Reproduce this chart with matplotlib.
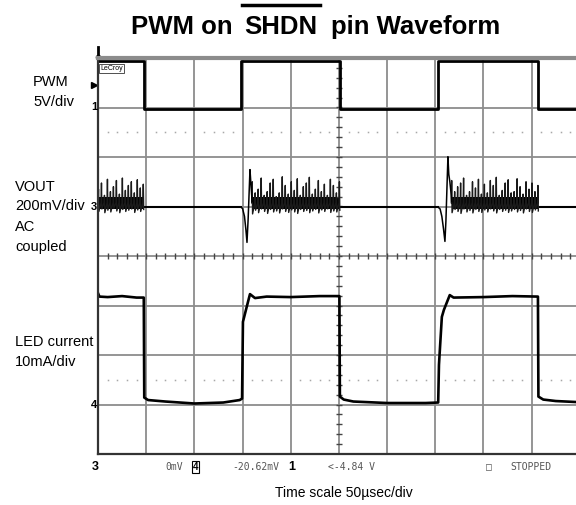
import matplotlib
matplotlib.use("Agg")
import matplotlib.pyplot as plt
from matplotlib.lines import Line2D
import numpy as np

plt.rcParams['font.family'] = ['Liberation Sans', 'DejaVu Sans']

# time base: 50 us/div, 10 divisions (right edge cut off)
t_per_div = 50.0
t_view = 496.0

# channel 1 - PWM, 5 V/div, ground at div 7
pwm_edge_t = [0, 48, 148, 251, 353, 457]
pwm_level = [4.7, -0.2, 4.7, -0.2, 4.7, -0.2]

# channel 4 - LED current, 10 mA/div, ground at div 1
led_t = [0, 1.5, 10, 25, 40, 47.5, 48, 52, 70, 100, 130, 147, 149.5,
         150.4, 153.5, 157.7, 162.9, 175, 200, 230, 250.5, 251, 255, 265,
         300, 340, 353, 353.8, 356.8, 358.9, 365, 369, 400, 430, 456.5,
         457, 462, 475, 496]
led_ma = [22.5, 21.8, 21.7, 21.9, 21.6, 21.6, 1.4, 0.9, 0.6, 0.2, 0.4, 0.9, 1.2,
          16.7, 19.1, 22.3, 21.5, 21.8, 21.7, 21.9, 21.9, 1.6, 1.0, 0.6,
          0.3, 0.3, 0.4, 8.0, 17.7, 19.1, 22.1, 21.6, 21.7, 21.9, 21.8,
          1.6, 1.0, 0.7, 0.5]

# channel 3 - VOUT, 200 mV/div AC coupled, ground at div 5
vout_off = -2
burst_spans = [(0.5, 47), (160, 250.5), (367, 456.5)]
burst_peaks = [
    [70, 95, 45, 110, 60, 80, 105, 50, 115, 65, 85, 100, 55, 108, 75, 90],
    [100, 55, 70, 115, 45, 60, 95, 110, 40, 55, 120, 85, 50, 100, 65, 112,
     45, 80, 95, 118, 50, 70, 105, 60, 90, 45, 110, 85, 55, 100],
    [105, 60, 80, 95, 115, 45, 60, 100, 75, 110, 50, 90, 55, 105, 85, 118,
     45, 65, 95, 108, 55, 60, 112, 80, 50, 100, 70, 95, 60, 85],
]
burst_troughs = [
    [-20, -10, -25, -15, -22, -8, -18, -25, -12, -20, -15, -10, -24, -14,
     -20, -12],
    [-30, -15, -25, -10, -20, -28, -12, -22, -18, -26, -10, -20, -24, -14,
     -22, -28, -12, -20, -16, -25, -18, -12, -26, -14, -20, -10, -24, -18,
     -22, -15],
    [-25, -12, -20, -28, -10, -22, -16, -26, -12, -20, -24, -14, -22, -10,
     -18, -26, -12, -20, -15, -24, -18, -12, -22, -16, -26, -10, -20, -24,
     -14, -18],
]
core_band = (-10, 40)
trans_t = [[148, 150, 152, 153.5, 154.6, 155.8, 157.7, 158.7, 159.5, 160],
           [353, 355, 356.8, 358.5, 360, 361, 363.1, 364, 365.1, 366.5, 367]]
trans_mv = [[-2, -8, -40, -95, -145, -50, 149, 90, 45, 20],
            [-3, -10, -40, -90, -141, -60, 201, 130, 100, 48, 20]]
flat_spans = [(47, 148), (250.5, 353), (456.5, 496)]

fig = plt.figure(figsize=(5.76, 5.05), dpi=100)
ax = fig.add_axes([98 / 576, 51 / 505, 478 / 576, 396 / 505])
ax.set_xlim(0, t_view)
ax.set_ylim(0, 8)

# graticule
ax.set_xticks(np.arange(0, t_view, t_per_div))
ax.set_yticks(np.arange(0, 8.1, 1))
ax.tick_params(length=0, labelbottom=False, labelleft=False)
ax.grid(color='#8c8c8c', lw=1.3)
ax.set_axisbelow(True)
for s in ['left', 'bottom']:
    ax.spines[s].set_color('#333333')
    ax.spines[s].set_linewidth(1.6)
ax.spines['right'].set_visible(False)
ax.spines['top'].set_color('#8c8c8c')
ax.spines['top'].set_linewidth(3)

# center axes with minor ticks
minor_t = np.arange(10, t_view, 10)
ax.plot(minor_t, np.full(len(minor_t), 4), ls='none', marker='|', ms=5,
        mew=1, color='#444444')
minor_y = np.arange(0.2, 8, 0.2)
ax.plot(np.full(len(minor_y), 250), minor_y, ls='none', marker='_', ms=5,
        mew=1, color='#444444')

# dotted reference lines
dot_t = np.array([t for t in np.arange(10, t_view, 10) if t % 50 != 0])
for lvl in [6.5, 1.5]:
    ax.plot(dot_t, np.full(len(dot_t), lvl), ls='none', marker='s', ms=1.1,
            color='#a8a8a8', mew=0)

# PWM
ax.plot(pwm_edge_t + [t_view], 7 + np.array(pwm_level + [pwm_level[-1]]) / 5.0,
        drawstyle='steps-post', color='black', lw=2)

# LED current
ax.plot(led_t, 1 + np.array(led_ma) / 10.0, color='black', lw=1.9)

# VOUT
for t0, t1 in flat_spans:
    ax.plot([t0, t1], [5 + vout_off / 200, 5 + vout_off / 200],
            color='black', lw=1.5)
for (t0, t1), pk, tr in zip(burst_spans, burst_peaks, burst_troughs):
    n = len(pk)
    tc = np.linspace(t0, t1, n)
    tt = np.column_stack([tc - 0.4, tc, tc + 0.4]).ravel()
    vv = np.column_stack([np.full(n, 15), pk, tr]).ravel()
    ax.fill_between([t0, t1], 5 + core_band[0] / 200, 5 + core_band[1] / 200,
                    color='black', lw=0)
    ax.plot(tt, 5 + vv / 200.0, color='#1a1a1a', lw=1.0)
for tt, mv in zip(trans_t, trans_mv):
    ax.plot(tt, 5 + np.array(mv) / 200.0, color='black', lw=1.1)

# channel markers on the left edge
for lvl, lab in [(7, '1'), (5, '3'), (1, '4')]:
    ax.text(-1, lvl, lab, ha='right', va='center', fontsize=8,
            fontweight='bold', clip_on=False)
ax.plot([-4], [7.46], marker='>', ms=4, color='black', clip_on=False)
ax.plot([0, 0], [8, 8.23], color='black', lw=2, clip_on=False)
ax.plot([0], [8.02], marker='o', ms=3, color='black', clip_on=False)
ax.text(2, 7.86, 'LeCroy', fontsize=5, va='top', ha='left',
        bbox=dict(boxstyle='square,pad=0.15', fc='white', ec='#333333', lw=0.6))

# channel labels
lab_kw = dict(fontsize=10.5, va='center', ha='left')
fig.text(33 / 576, 1 - 82 / 505, 'PWM', **lab_kw)
fig.text(33 / 576, 1 - 102 / 505, '5V/div', **lab_kw)
fig.text(15 / 576, 1 - 187 / 505, 'VOUT', **lab_kw)
fig.text(15 / 576, 1 - 206 / 505, '200mV/div', **lab_kw)
fig.text(15 / 576, 1 - 227 / 505, 'AC', **lab_kw)
fig.text(15 / 576, 1 - 247 / 505, 'coupled', **lab_kw)
fig.text(15 / 576, 1 - 342 / 505, 'LED current', **lab_kw)
fig.text(15 / 576, 1 - 362 / 505, '10mA/div', **lab_kw)

# scope status line
mono = dict(fontsize=7, family='DejaVu Sans Mono', color='#555555', va='center')
yb = 1 - 467 / 505
fig.text(92 / 576, yb, '3', fontsize=9, fontweight='bold', va='center')
fig.text(165 / 576, yb, '0mV', **mono)
fig.text(193 / 576, yb, '4', fontsize=7, fontweight='bold', va='center',
         bbox=dict(boxstyle='square,pad=0.1', fc='white', ec='black', lw=0.8))
fig.text(232 / 576, yb, '-20.62mV', **mono)
fig.text(288 / 576, yb, '1', fontsize=9, fontweight='bold', va='center')
fig.text(328 / 576, yb, '<-4.84 V', **mono)
fig.text(486 / 576, yb, '\u25a1', **mono)
fig.text(510 / 576, yb, 'STOPPED', **mono)

fig.text(344 / 576, 1 - 493 / 505, 'Time scale 50\u00b5sec/div', fontsize=10,
         ha='center', va='center')

# title with overlined SHDN
title_kw = dict(fontsize=18.5, fontweight='bold', va='bottom')
t1 = fig.text(131 / 576, 1 - 39 / 505, 'PWM on', ha='left', **title_kw)
t2 = ax.annotate('SHDN', xy=(1, 0), xycoords=t1, xytext=(8, 0),
                 textcoords='offset points', annotation_clip=False,
                 ha='left', **title_kw)
t3 = ax.annotate('pin Waveform', xy=(1, 0), xycoords=t2, xytext=(10, 0),
                 textcoords='offset points', annotation_clip=False,
                 ha='left', **title_kw)
fig.canvas.draw()
bb = t2.get_window_extent()
inv = fig.transFigure.inverted()
(x0, y0), (x1, y1) = inv.transform([(bb.x0 - 2, 0), (bb.x1 + 3, 0)])
yo = 1 - 5 / 505
fig.add_artist(Line2D([x0, x1], [yo, yo], transform=fig.transFigure,
                      color='black', lw=2.5))

fig.savefig('out.png', dpi=100)
